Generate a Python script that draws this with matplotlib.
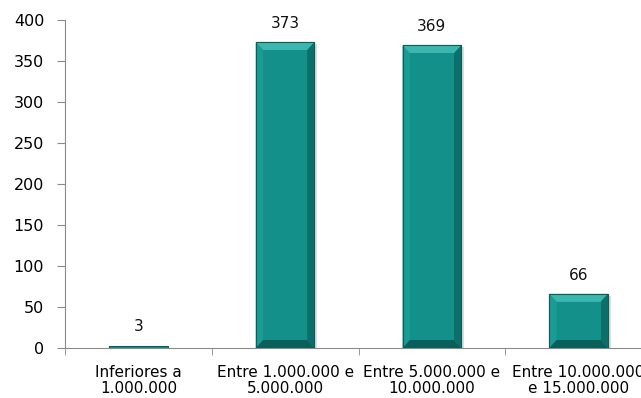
import matplotlib.pyplot as plt
from matplotlib.patches import Polygon, Rectangle
import numpy as np

plt.rcParams['font.family'] = ['DejaVu Sans']

categorias = ['Inferiores a\n1.000.000', 'Entre 1.000.000 e\n5.000.000',
              'Entre 5.000.000 e\n10.000.000', 'Entre 10.000.000\ne 15.000.000']
valores = [3, 373, 369, 66]

face = '#14908b'
dark = '#0b5f5b'
light = '#3cb7b0'
mid_dark = '#0e6e6a'

fig = plt.figure(figsize=(6.41, 3.98), dpi=100)
ax = fig.add_axes([65 / 641, 1 - 348 / 398, 587 / 641, 328 / 398])

x = np.arange(len(valores))
w = 0.4
ax.bar(x, valores, width=w, color=face, edgecolor=dark, linewidth=0.8, zorder=3)

# bevel / shadow look
ypx = 400 / 328.0
for xi, v in zip(x, valores):
    l, r = xi - w / 2, xi + w / 2
    # soft shadow on the right
    ax.add_patch(Rectangle((r, 0), 0.02, v - 2 * ypx, color='#c8c8c8', alpha=0.6, zorder=2, lw=0))
    if v < 20:
        continue
    dx = 0.05
    dy = 8 * ypx
    il, ir, ib, it = l + dx, r - dx, dy, v - dy
    ax.add_patch(Polygon([(l, v), (r, v), (ir, it), (il, it)], color=light, zorder=4, lw=0))
    ax.add_patch(Polygon([(l, 0), (l, v), (il, it), (il, ib)], color='#1a9c96', zorder=4, lw=0))
    ax.add_patch(Polygon([(r, 0), (r, v), (ir, it), (ir, ib)], color=mid_dark, zorder=4, lw=0))
    ax.add_patch(Polygon([(l, 0), (r, 0), (ir, ib), (il, ib)], color=dark, zorder=4, lw=0))
    ax.add_patch(Rectangle((il, ib), ir - il, it - ib, color=face, zorder=4, lw=0))
    ax.plot([l, r, r, l, l], [0, 0, v, v, 0], color=dark, lw=0.8, zorder=5)

for xi, v in zip(x, valores):
    ax.annotate(str(v), (xi, v), xytext=(0, 8), textcoords='offset points',
                ha='center', va='bottom', fontsize=11, color='#111111')

ax.set_xlim(-0.5, len(valores) - 0.5)
ax.set_ylim(0, 400)
ax.set_yticks(range(0, 401, 50))
ax.set_xticks(x)
ax.set_xticklabels(categorias, fontsize=11, linespacing=1.1)
ax.set_xticks(np.arange(-0.5, len(valores), 1), minor=True)
ax.tick_params(axis='x', which='major', length=0, pad=12)
ax.tick_params(axis='x', which='minor', length=5, color='#8a8a8a')
ax.tick_params(axis='y', length=6, color='#8a8a8a', labelsize=11.5, pad=9)

for s in ['top', 'right']:
    ax.spines[s].set_visible(False)
for s in ['left', 'bottom']:
    ax.spines[s].set_color('#8a8a8a')

fig.savefig('out.png', dpi=100)
